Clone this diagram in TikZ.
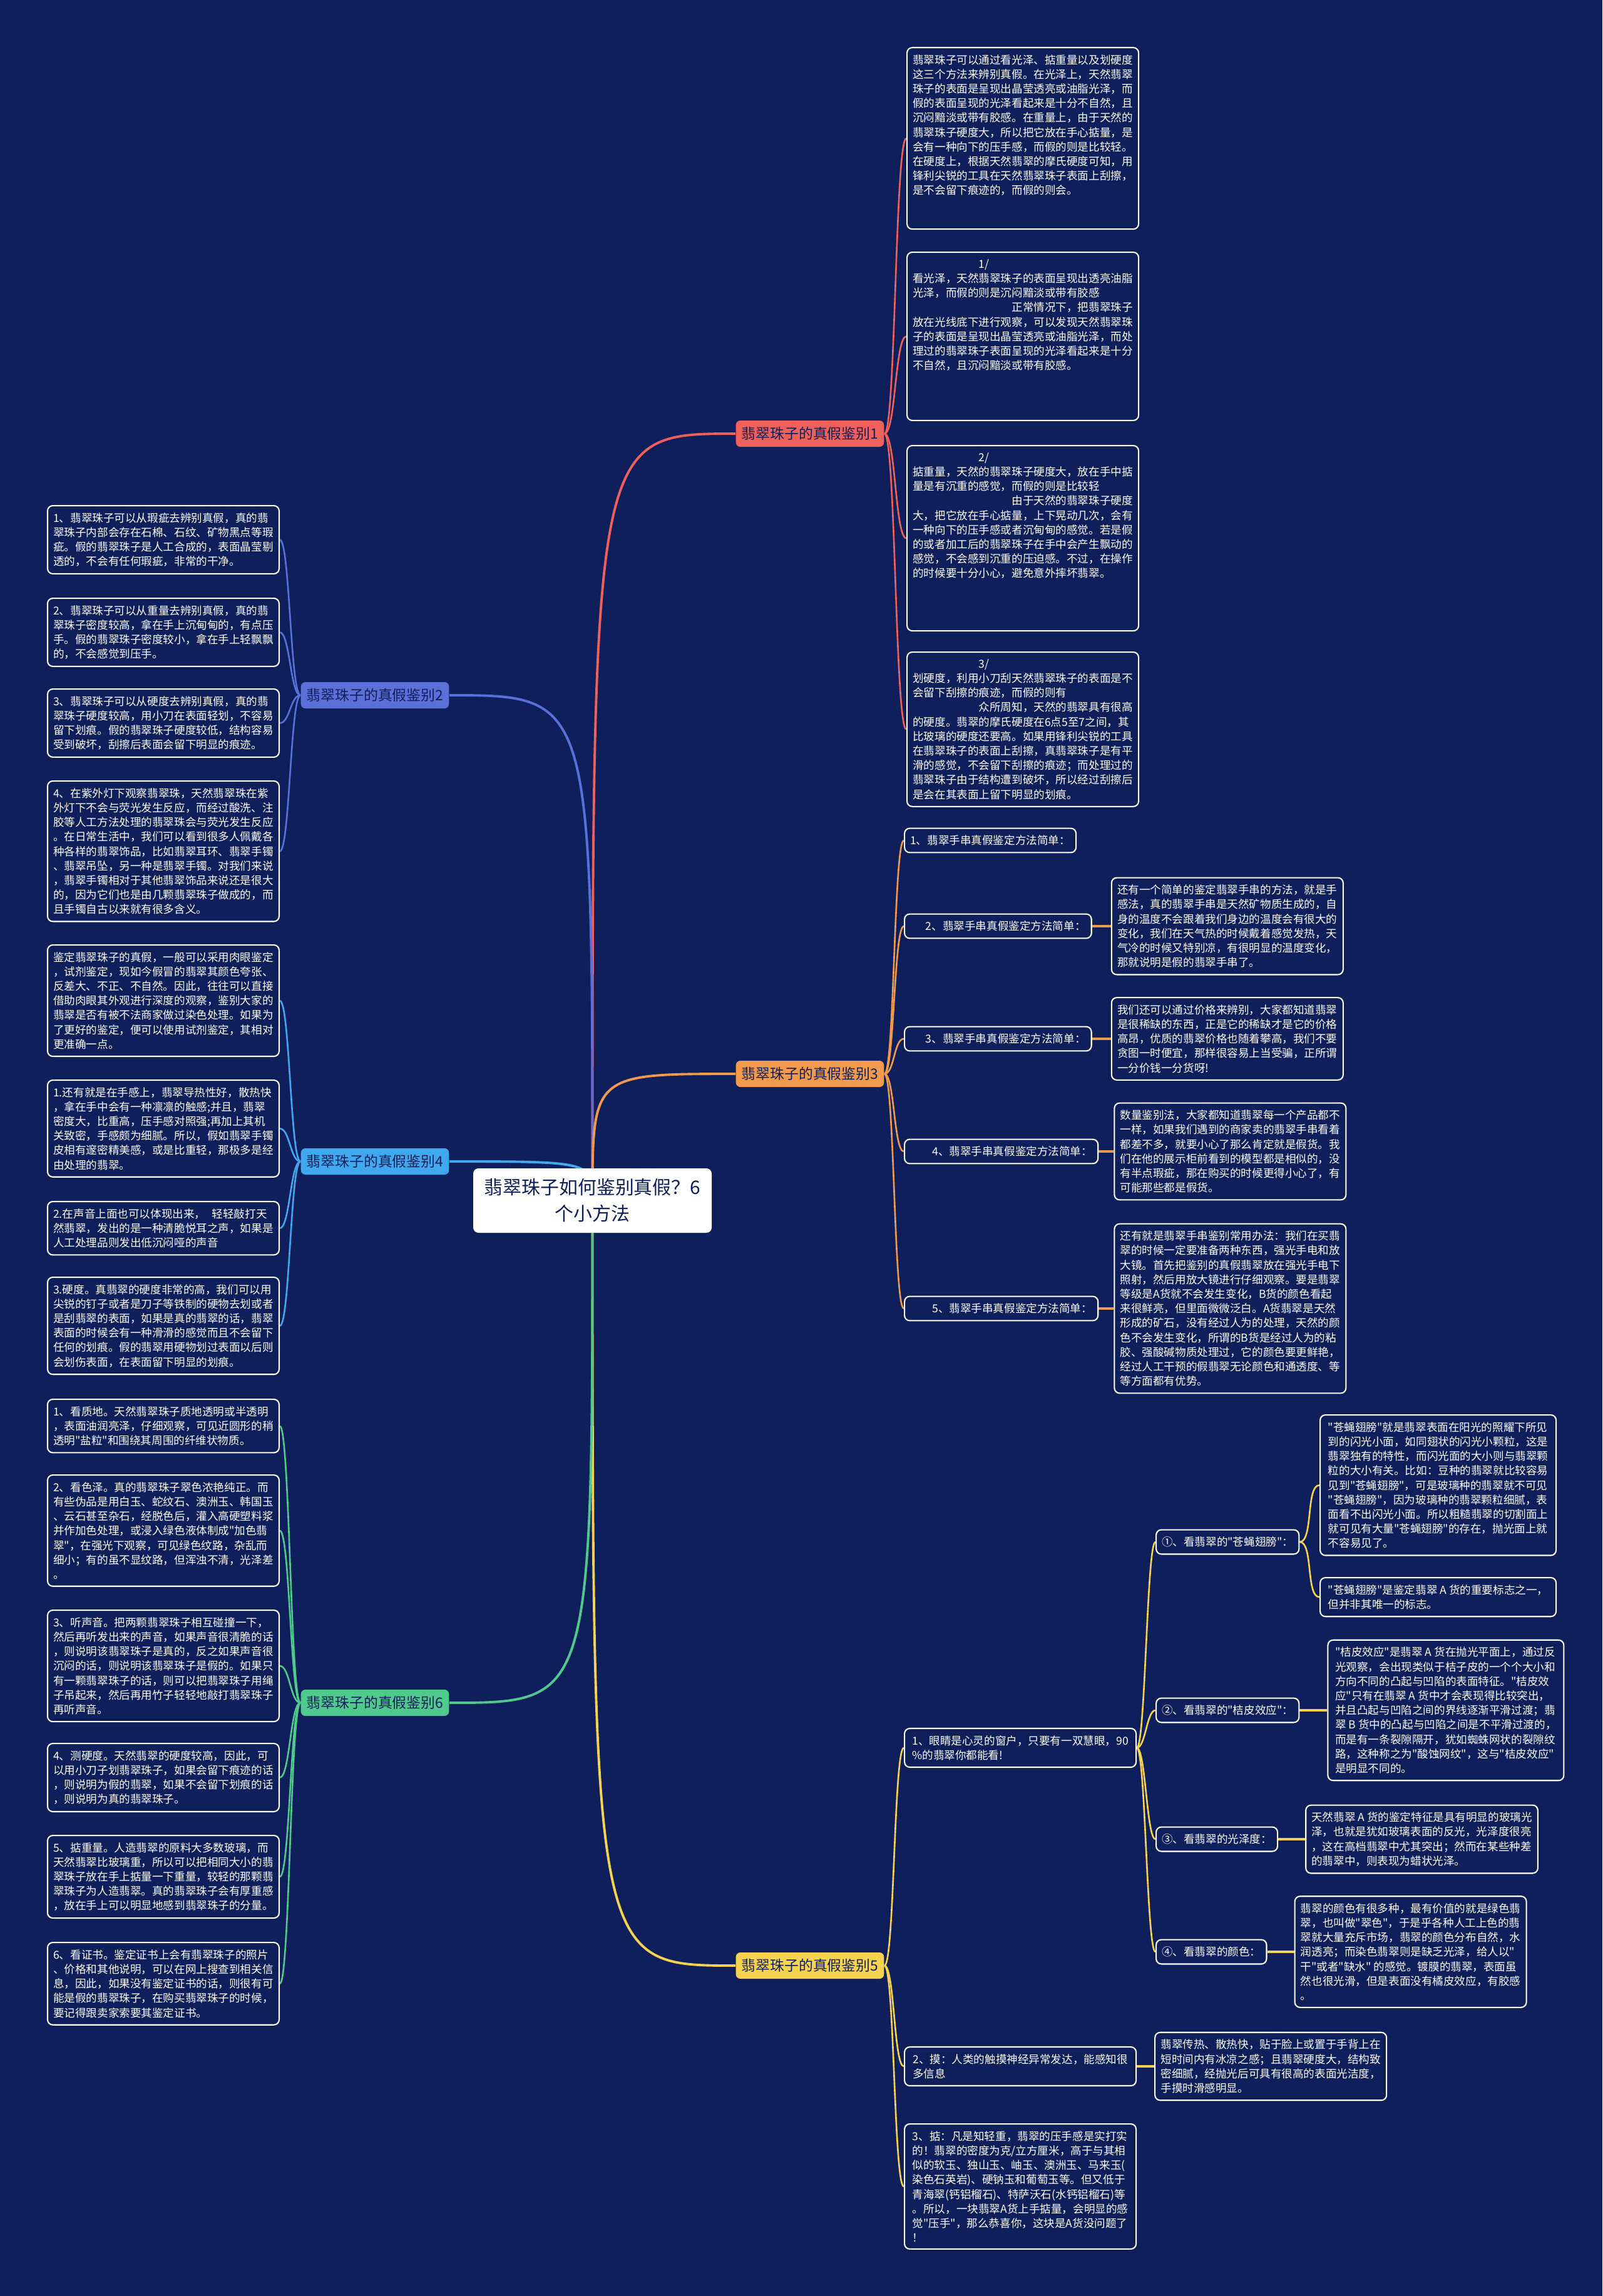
\documentclass[tikz,border=0pt]{standalone}
\usepackage{fontspec}
\setmainfont{Noto Sans CJK SC}[Ligatures=TeXOff]
\usetikzlibrary{positioning}
\definecolor{navy}{HTML}{0E1F5B}
\definecolor{brred}{HTML}{F0605A}
\definecolor{brblue}{HTML}{5B6FD8}
\definecolor{brorange}{HTML}{F29A4C}
\definecolor{brsky}{HTML}{3FA8EE}
\definecolor{brgreen}{HTML}{4FC98C}
\definecolor{bryellow}{HTML}{F6D34E}
\pgfdeclarelayer{back}
\pgfdeclarelayer{links}
\pgfsetlayers{back,links,main}
\newcommand{\cardpad}[1]{\rule[-#1]{0pt}{0pt}}
\tikzset{%
  card/.style={draw=white, line width=0.6pt, fill=navy, rounded corners=2.4pt, align=left, text=white,
    inner xsep=2.6pt, inner ysep=3.2pt, minimum width=3.70cm, font=\fontsize{5}{6.6}\selectfont},
  tagbox/.style={card, minimum width=0pt},
  branchbox/.style={fill=#1, rounded corners=2pt, text=navy, inner xsep=2.6pt, inner ysep=2.4pt,
    minimum width=2.36cm, minimum height=0.42cm, font=\fontsize{6.5}{8}\selectfont},
  rootbox/.style={fill=white, rounded corners=2.4pt, text=navy, align=center,
    minimum width=3.81cm, minimum height=1.03cm, font=\fontsize{8.5}{12}\selectfont},
  trunk/.style={draw=#1, line width=1.1pt},
  twig/.style={draw=#1, line width=0.75pt},
  rootlink/.style={to path={.. controls (\tikztostart |- \tikztotarget) .. (\tikztotarget)}},
  linkr/.style={to path={.. controls +(#1,0) and +(-#1,0) .. (\tikztotarget)}},
  linkr/.default=0.16,
  linkl/.style={to path={.. controls +(-#1,0) and +(#1,0) .. (\tikztotarget)}},
  linkl/.default=0.16
}

\begin{document}
\begin{tikzpicture}
\useasboundingbox (0,0) rectangle (25.6,-36.69);
\begin{pgfonlayer}{back}
  \fill[navy] (0,0) rectangle (25.6,-36.69);
\end{pgfonlayer}

% Root and the six branches
\node[rootbox] (ctr) at (9.465,-19.185) {翡翠珠子如何鉴别真假？6\\个小方法};
\node[branchbox=brred, anchor=west] (br1) at (11.75,-6.93) {翡翠珠子的真假鉴别1};
\node[branchbox=brblue, anchor=east] (br2) at (7.18,-11.11) {翡翠珠子的真假鉴别2};
\node[branchbox=brorange, anchor=west] (br3) at (11.75,-17.16) {翡翠珠子的真假鉴别3};
\node[branchbox=brsky, anchor=east] (br4) at (7.18,-18.56) {翡翠珠子的真假鉴别4};
\node[branchbox=bryellow, anchor=west] (br5) at (11.75,-31.41) {翡翠珠子的真假鉴别5};
\node[branchbox=brgreen, anchor=east] (br6) at (7.18,-27.21) {翡翠珠子的真假鉴别6};

% Branch 1 (right, top)
\node[card, anchor=north west] (b1a) at (14.48,-0.75) {翡翠珠子可以通过看光泽、掂重量以及划硬度\\
这三个方法来辨别真假。在光泽上，天然翡翠\\
珠子的表面是呈现出晶莹透亮或油脂光泽，而\\
假的表面呈现的光泽看起来是十分不自然，且\\
沉闷黯淡或带有胶感。在重量上，由于天然的\\
翡翠珠子硬度大，所以把它放在手心掂量，是\\
会有一种向下的压手感，而假的则是比较轻。\\
在硬度上，根据天然翡翠的摩氏硬度可知，用\\
锋利尖锐的工具在天然翡翠珠子表面上刮擦，\\
是不会留下痕迹的，而假的则会。\cardpad{0.44cm}};
\node[card, anchor=north west] (b1b) at (14.48,-4.02) {\hspace*{6em}1/\\
看光泽，天然翡翠珠子的表面呈现出透亮油脂\\
光泽，而假的则是沉闷黯淡或带有胶感\\
\hspace*{9em}正常情况下，把翡翠珠子\\
放在光线底下进行观察，可以发现天然翡翠珠\\
子的表面是呈现出晶莹透亮或油脂光泽，而处\\
理过的翡翠珠子表面呈现的光泽看起来是十分\\
不自然，且沉闷黯淡或带有胶感。\cardpad{0.70cm}};
\node[card, anchor=north west] (b1c) at (14.48,-7.11) {\hspace*{6em}2/\\
掂重量，天然的翡翠珠子硬度大，放在手中掂\\
量是有沉重的感觉，而假的则是比较轻\\
\hspace*{9em}由于天然的翡翠珠子硬度\\
大，把它放在手心掂量，上下晃动几次，会有\\
一种向下的压手感或者沉甸甸的感觉。若是假\\
的或者加工后的翡翠珠子在手中会产生飘动的\\
感觉，不会感到沉重的压迫感。不过，在操作\\
的时候要十分小心，避免意外摔坏翡翠。\cardpad{0.74cm}};
\node[card, anchor=north west] (b1d) at (14.48,-10.41) {\hspace*{6em}3/\\
划硬度，利用小刀刮天然翡翠珠子的表面是不\\
会留下刮擦的痕迹，而假的则有\\
\hspace*{6em}众所周知，天然的翡翠具有很高\\
的硬度。翡翠的摩氏硬度在6点5至7之间，其\\
比玻璃的硬度还要高。如果用锋利尖锐的工具\\
在翡翠珠子的表面上刮擦，真翡翠珠子是有平\\
滑的感觉，不会留下刮擦的痕迹；而处理过的\\
翡翠珠子由于结构遭到破坏，所以经过刮擦后\\
是会在其表面上留下明显的划痕。};

% Branch 2 (left, top)
\node[card, anchor=north east] (b2a) at (4.47,-8.07) {1、翡翠珠子可以从瑕疵去辨别真假，真的翡\\
翠珠子内部会存在石棉、石纹、矿物黑点等瑕\\
疵。假的翡翠珠子是人工合成的，表面晶莹剔\\
透的，不会有任何瑕疵，非常的干净。};
\node[card, anchor=north east] (b2b) at (4.47,-9.55) {2、翡翠珠子可以从重量去辨别真假，真的翡\\
翠珠子密度较高，拿在手上沉甸甸的，有点压\\
手。假的翡翠珠子密度较小，拿在手上轻飘飘\\
的，不会感觉到压手。};
\node[card, anchor=north east] (b2c) at (4.47,-11.00) {3、翡翠珠子可以从硬度去辨别真假，真的翡\\
翠珠子硬度较高，用小刀在表面轻划，不容易\\
留下划痕。假的翡翠珠子硬度较低，结构容易\\
受到破坏，刮擦后表面会留下明显的痕迹。};
\node[card, anchor=north east] (b2d) at (4.47,-12.47) {4、在紫外灯下观察翡翠珠，天然翡翠珠在紫\\
外灯下不会与荧光发生反应，而经过酸洗、注\\
胶等人工方法处理的翡翠珠会与荧光发生反应\\
。在日常生活中，我们可以看到很多人佩戴各\\
种各样的翡翠饰品，比如翡翠耳环、翡翠手镯\\
、翡翠吊坠，另一种是翡翠手镯。对我们来说\\
，翡翠手镯相对于其他翡翠饰品来说还是很大\\
的，因为它们也是由几颗翡翠珠子做成的，而\\
且手镯自古以来就有很多含义。};

% Branch 3 (right, middle)
\node[tagbox, anchor=west] (c3a) at (14.44,-13.43) {1、翡翠手串真假鉴定方法简单：};
\node[tagbox, anchor=west] (c3b) at (14.44,-14.80) {\hspace*{1.4em}2、翡翠手串真假鉴定方法简单：};
\node[tagbox, anchor=west] (c3c) at (14.44,-16.60) {\hspace*{1.4em}3、翡翠手串真假鉴定方法简单：};
\node[tagbox, anchor=west] (c3d) at (14.44,-18.40) {\hspace*{2em}4、翡翠手串真假鉴定方法简单：};
\node[tagbox, anchor=west] (c3e) at (14.44,-20.91) {\hspace*{2em}5、翡翠手串真假鉴定方法简单：};
\node[card, right=3mm of c3b] (c3bd) {还有一个简单的鉴定翡翠手串的方法，就是手\\
感法，真的翡翠手串是天然矿物质生成的，自\\
身的温度不会跟着我们身边的温度会有很大的\\
变化，我们在天气热的时候戴着感觉发热，天\\
气冷的时候又特别凉，有很明显的温度变化，\\
那就说明是假的翡翠手串了。};
\node[card, right=3mm of c3c] (c3cd) {我们还可以通过价格来辨别，大家都知道翡翠\\
是很稀缺的东西，正是它的稀缺才是它的价格\\
高昂，优质的翡翠价格也随着攀高，我们不要\\
贪图一时便宜，那样很容易上当受骗，正所谓\\
一分价钱一分货呀!};
\node[card, right=2.4mm of c3d] (c3dd) {数量鉴别法，大家都知道翡翠每一个产品都不\\
一样，如果我们遇到的商家卖的翡翠手串看着\\
都差不多，就要小心了那么肯定就是假货。我\\
们在他的展示柜前看到的模型都是相似的，没\\
有半点瑕疵，那在购买的时候更得小心了，有\\
可能那些都是假货。};
\node[card, right=2.4mm of c3e] (c3ed) {还有就是翡翠手串鉴别常用办法：我们在买翡\\
翠的时候一定要准备两种东西，强光手电和放\\
大镜。首先把鉴别的真假翡翠放在强光手电下\\
照射，然后用放大镜进行仔细观察。要是翡翠\\
等级是A货就不会发生变化，B货的颜色看起\\
来很鲜亮，但里面微微泛白。A货翡翠是天然\\
形成的矿石，没有经过人为的处理，天然的颜\\
色不会发生变化，所谓的B货是经过人为的粘\\
胶、强酸碱物质处理过，它的颜色要更鲜艳，\\
经过人工干预的假翡翠无论颜色和通透度、等\\
等方面都有优势。};

% Branch 4 (left, middle)
\node[card, anchor=north east] (b4a) at (4.47,-15.09) {鉴定翡翠珠子的真假，一般可以采用肉眼鉴定\\
，试剂鉴定，现如今假冒的翡翠其颜色夸张、\\
反差大、不正、不自然。因此，往往可以直接\\
借助肉眼其外观进行深度的观察，鉴别大家的\\
翡翠是否有被不法商家做过染色处理。如果为\\
了更好的鉴定，便可以使用试剂鉴定，其相对\\
更准确一点。};
\node[card, anchor=north east] (b4b) at (4.47,-17.25) {1.还有就是在手感上，翡翠导热性好，散热快\\
，拿在手中会有一种凛凛的触感;并且，翡翠\\
密度大，比重高，压手感对照强;再加上其机\\
关致密，手感颇为细腻。所以，假如翡翠手镯\\
皮相有邃密精美感，或是比重轻，那极多是经\\
由处理的翡翠。};
\node[card, anchor=north east] (b4c) at (4.47,-19.19) {2.在声音上面也可以体现出来，\hspace{0.6em}轻轻敲打天\\
然翡翠，发出的是一种清脆悦耳之声，如果是\\
人工处理品则发出低沉闷哑的声音};
\node[card, anchor=north east] (b4d) at (4.47,-20.40) {3.硬度。真翡翠的硬度非常的高，我们可以用\\
尖锐的钉子或者是刀子等铁制的硬物去划或者\\
是刮翡翠的表面，如果是真的翡翠的话，翡翠\\
表面的时候会有一种滑滑的感觉而且不会留下\\
任何的划痕。假的翡翠用硬物划过表面以后则\\
会划伤表面，在表面留下明显的划痕。};

% Branch 6 (left, bottom)
\node[card, anchor=north east] (b6a) at (4.47,-22.35) {1、看质地。天然翡翠珠子质地透明或半透明\\
，表面油润亮泽，仔细观察，可见近圆形的稍\\
透明"盐粒"和围绕其周围的纤维状物质。};
\node[card, anchor=north east] (b6b) at (4.47,-23.56) {2、看色泽。真的翡翠珠子翠色浓艳纯正。而\\
有些伪品是用白玉、蛇纹石、澳洲玉、韩国玉\\
、云石甚至杂石，经脱色后，灌入高硬塑料浆\\
并作加色处理，或浸入绿色液体制成"加色翡\\
翠"，在强光下观察，可见绿色纹路，杂乱而\\
细小；有的虽不显纹路，但浑浊不清，光泽差\\
。};
\node[card, anchor=north east] (b6c) at (4.47,-25.72) {3、听声音。把两颗翡翠珠子相互碰撞一下，\\
然后再听发出来的声音，如果声音很清脆的话\\
，则说明该翡翠珠子是真的，反之如果声音很\\
沉闷的话，则说明该翡翠珠子是假的。如果只\\
有一颗翡翠珠子的话，则可以把翡翠珠子用绳\\
子吊起来，然后再用竹子轻轻地敲打翡翠珠子\\
再听声音。};
\node[card, anchor=north east] (b6d) at (4.47,-27.85) {4、测硬度。天然翡翠的硬度较高，因此，可\\
以用小刀子划翡翠珠子，如果会留下痕迹的话\\
，则说明为假的翡翠，如果不会留下划痕的话\\
，则说明为真的翡翠珠子。};
\node[card, anchor=north east] (b6e) at (4.47,-29.32) {5、掂重量。人造翡翠的原料大多数玻璃，而\\
天然翡翠比玻璃重，所以可以把相同大小的翡\\
翠珠子放在手上掂量一下重量，较轻的那颗翡\\
翠珠子为人造翡翠。真的翡翠珠子会有厚重感\\
，放在手上可以明显地感到翡翠珠子的分量。};
\node[card, anchor=north east] (b6f) at (4.47,-31.03) {6、看证书。鉴定证书上会有翡翠珠子的照片\\
、价格和其他说明，可以在网上搜查到相关信\\
息，因此，如果没有鉴定证书的话，则很有可\\
能是假的翡翠珠子，在购买翡翠珠子的时候，\\
要记得跟卖家索要其鉴定证书。};

% Branch 5 (right, bottom)
\node[card, anchor=west] (c5a) at (14.44,-27.93) {1、眼睛是心灵的窗户，只要有一双慧眼，90\\
\%的翡翠你都能看!};
\node[tagbox, anchor=west] (d1) at (18.46,-24.64) {①、看翡翠的"苍蝇翅膀"：};
\node[tagbox, anchor=west] (d2) at (18.46,-27.33) {②、看翡翠的"桔皮效应"：};
\node[tagbox, anchor=west] (d3) at (18.46,-29.39) {③、看翡翠的光泽度：};
\node[tagbox, anchor=west] (d4) at (18.46,-31.19) {④、看翡翠的颜色：};
\node[card, anchor=north west, minimum width=3.77cm] (e1a) at (21.08,-22.60) {"苍蝇翅膀"就是翡翠表面在阳光的照耀下所见\\
到的闪光小面，如同翅状的闪光小颗粒，这是\\
翡翠独有的特性，而闪光面的大小则与翡翠颗\\
粒的大小有关。比如：豆种的翡翠就比较容易\\
见到"苍蝇翅膀"，可是玻璃种的翡翠就不可见\\
"苍蝇翅膀"，因为玻璃种的翡翠颗粒细腻，表\\
面看不出闪光小面。所以粗糙翡翠的切割面上\\
就可见有大量"苍蝇翅膀"的存在，抛光面上就\\
不容易见了。};
\node[card, anchor=north west, minimum width=3.77cm] (e1b) at (21.08,-25.20) {"苍蝇翅膀"是鉴定翡翠 A 货的重要标志之一，\\
但并非其唯一的标志。};
\node[card, right=4.4mm of d2, minimum width=3.77cm] (e2) {"桔皮效应"是翡翠 A 货在抛光平面上，通过反\\
光观察，会出现类似于桔子皮的一个个大小和\\
方向不同的凸起与凹陷的表面特征。"桔皮效\\
应"只有在翡翠 A 货中才会表现得比较突出，\\
并且凸起与凹陷之间的界线逐渐平滑过渡；翡\\
翠 B 货中的凸起与凹陷之间是不平滑过渡的，\\
而是有一条裂隙隔开，犹如蜘蛛网状的裂隙纹\\
路，这种称之为"酸蚀网纹"，这与"桔皮效应"\\
是明显不同的。};
\node[card, right=4.3mm of d3] (e3) {天然翡翠 A 货的鉴定特征是具有明显的玻璃光\\
泽，也就是犹如玻璃表面的反光，光泽度很亮\\
，这在高档翡翠中尤其突出；然而在某些种差\\
的翡翠中，则表现为蜡状光泽。};
\node[card, right=4.3mm of d4] (e4) {翡翠的颜色有很多种，最有价值的就是绿色翡\\
翠，也叫做"翠色"，于是乎各种人工上色的翡\\
翠就大量充斥市场，翡翠的颜色分布自然，水\\
润透亮；而染色翡翠则是缺乏光泽，给人以"\\
干"或者"缺水" 的感觉。镀膜的翡翠，表面虽\\
然也很光滑，但是表面没有橘皮效应，有胶感\\
。};
\node[card, anchor=west] (c5b) at (14.44,-33.02) {2、摸：人类的触摸神经异常发达，能感知很\\
多信息};
\node[card, right=2.8mm of c5b] (c5bd) {翡翠传热、散热快，贴于脸上或置于手背上在\\
短时间内有冰凉之感；且翡翠硬度大，结构致\\
密细腻，经抛光后可具有很高的表面光洁度，\\
手摸时滑感明显。};
\node[card, anchor=north west] (c5c) at (14.44,-33.93) {3、掂：凡是知轻重，翡翠的压手感是实打实\\
的！翡翠的密度为克/立方厘米，高于与其相\\
似的软玉、独山玉、岫玉、澳洲玉、马来玉(\\
染色石英岩)、硬钠玉和葡萄玉等。但又低于\\
青海翠(钙铝榴石)、特萨沃石(水钙铝榴石)等\\
。所以，一块翡翠A货上手掂量，会明显的感\\
觉"压手"，那么恭喜你，这块是A货没问题了\\
！};

% Connectors
\begin{pgfonlayer}{links}
  \draw[trunk=brred] (ctr.center) to[rootlink] (br1.west);
  \draw[trunk=brblue] (ctr.center) to[rootlink] (br2.east);
  \draw[trunk=brorange] (ctr.center) to[rootlink] (br3.west);
  \draw[trunk=brsky] (ctr.center) to[rootlink] (br4.east);
  \draw[trunk=bryellow] (ctr.center) to[rootlink] (br5.west);
  \draw[trunk=brgreen] (ctr.center) to[rootlink] (br6.east);

  \draw[twig=brred] (br1.east) to[linkr=0.18] (b1a.west);
  \draw[twig=brred] (br1.east) to[linkr=0.18] (b1b.west);
  \draw[twig=brred] (br1.east) to[linkr=0.18] (b1c.west);
  \draw[twig=brred] (br1.east) to[linkr=0.18] (b1d.west);

  \draw[twig=brblue] (br2.west) to[linkl] (b2a.east);
  \draw[twig=brblue] (br2.west) to[linkl] (b2b.east);
  \draw[twig=brblue] (br2.west) to[linkl] (b2c.east);
  \draw[twig=brblue] (br2.west) to[linkl] (b2d.east);

  \draw[twig=brorange] (br3.east) to[linkr] (c3a.west);
  \draw[twig=brorange] (br3.east) to[linkr] (c3b.west);
  \draw[twig=brorange] (br3.east) to[linkr] (c3c.west);
  \draw[twig=brorange] (br3.east) to[linkr] (c3d.west);
  \draw[twig=brorange] (br3.east) to[linkr] (c3e.west);
  \draw[twig=brorange, line width=1.1pt] (c3b) -- (c3bd);
  \draw[twig=brorange, line width=1.1pt] (c3c) -- (c3cd);
  \draw[twig=brorange, line width=1.1pt] (c3d) -- (c3dd);
  \draw[twig=brorange, line width=1.1pt] (c3e) -- (c3ed);

  \draw[twig=brsky] (br4.west) to[linkl] (b4a.east);
  \draw[twig=brsky] (br4.west) to[linkl] (b4b.east);
  \draw[twig=brsky] (br4.west) to[linkl] (b4c.east);
  \draw[twig=brsky] (br4.west) to[linkl] (b4d.east);

  \draw[twig=brgreen] (br6.west) to[linkl] (b6a.east);
  \draw[twig=brgreen] (br6.west) to[linkl] (b6b.east);
  \draw[twig=brgreen] (br6.west) to[linkl] (b6c.east);
  \draw[twig=brgreen] (br6.west) to[linkl] (b6d.east);
  \draw[twig=brgreen] (br6.west) to[linkl] (b6e.east);
  \draw[twig=brgreen] (br6.west) to[linkl] (b6f.east);

  \draw[twig=bryellow] (br5.east) to[linkr] (c5a.west);
  \draw[twig=bryellow] (br5.east) to[linkr] (c5b.west);
  \draw[twig=bryellow] (br5.east) to[linkr] (c5c.west);
  \draw[twig=bryellow] (c5a.east) to[linkr=0.14] (d1.west);
  \draw[twig=bryellow] (c5a.east) to[linkr=0.14] (d2.west);
  \draw[twig=bryellow] (c5a.east) to[linkr=0.14] (d3.west);
  \draw[twig=bryellow] (c5a.east) to[linkr=0.14] (d4.west);
  \draw[twig=bryellow] (d1.east) to[linkr=0.22] (e1a.west);
  \draw[twig=bryellow] (d1.east) to[linkr=0.22] (e1b.west);
  \draw[twig=bryellow, line width=1.1pt] (d2) -- (e2);
  \draw[twig=bryellow, line width=1.1pt] (d3) -- (e3);
  \draw[twig=bryellow, line width=1.1pt] (d4) -- (e4);
  \draw[twig=bryellow, line width=1.1pt] (c5b) -- (c5bd);
\end{pgfonlayer}
\end{tikzpicture}
\end{document}
